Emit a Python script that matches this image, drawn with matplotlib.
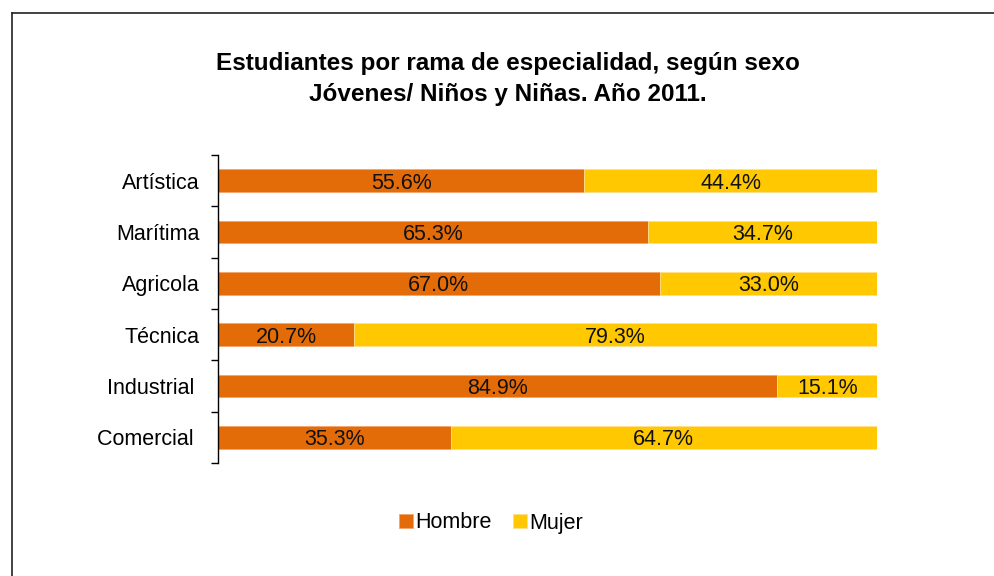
import matplotlib
matplotlib.use("Agg")
import matplotlib.pyplot as plt
from matplotlib.lines import Line2D

categories = ["Artística", "Marítima", "Agricola", "Técnica", "Industrial ", "Comercial "]
hombre = [55.6, 65.3, 67.0, 20.7, 84.9, 35.3]
mujer = [44.4, 34.7, 33.0, 79.3, 15.1, 64.7]
series_names = ["Hombre", "Mujer"]
title = "Estudiantes por rama de especialidad, según sexo\nJóvenes/ Niños y Niñas. Año 2011."

plt.rcParams['font.family'] = ['Liberation Sans', 'DejaVu Sans']

c_h = "#E36C09"
c_m = "#FFC800"

fig = plt.figure(figsize=(9.94, 5.76), dpi=100)
ax = fig.add_axes([218/994, 1-463/576, (877-218)/994, (463-155)/576])

n = len(categories)
ypos = list(range(n))
bh = 0.44
b1 = ax.barh(ypos, hombre, height=bh, color=c_h, edgecolor="#F4A46A", linewidth=0.6)
b2 = ax.barh(ypos, mujer, left=hombre, height=bh, color=c_m, edgecolor="#FFE08A", linewidth=0.6)

fs = 15.5
for i in range(n):
    ax.text(hombre[i]/2, ypos[i], f"{hombre[i]:.1f}%", ha="center", va="center_baseline", fontsize=fs, color="#111111")
    ax.text(hombre[i] + mujer[i]/2, ypos[i], f"{mujer[i]:.1f}%", ha="center", va="center_baseline", fontsize=fs, color="#111111")

ax.set_xlim(0, 100)
ax.set_ylim(n-0.5, -0.5)
ax.set_yticks(ypos)
ax.set_yticklabels(categories, fontsize=fs)
ax.set_yticks([i-0.5 for i in range(n+1)], minor=True)
ax.tick_params(axis="y", which="major", length=0, pad=13)
ax.tick_params(axis="y", which="minor", length=5, direction="out", width=1)
ax.set_xticks([])
for s in ["top", "right", "bottom"]:
    ax.spines[s].set_visible(False)
ax.spines["left"].set_linewidth(1)

fig.text(508/994, 1-79/576, title, ha="center", va="center", fontsize=17.5, fontweight="bold", linespacing=1.45)

leg = fig.legend([b1, b2], series_names, loc="center", bbox_to_anchor=(491/994, 1-523/576),
                 ncol=2, frameon=False, fontsize=fs, handlelength=0.65, handleheight=0.65,
                 handletextpad=0.1, columnspacing=1.0)

fig.add_artist(Line2D([12/994, 12/994], [0, 1-13/576], transform=fig.transFigure, color="#222222", linewidth=1.2))
fig.add_artist(Line2D([12/994, 1], [1-13/576, 1-13/576], transform=fig.transFigure, color="#222222", linewidth=1.2))

fig.savefig("out.png", dpi=100)
